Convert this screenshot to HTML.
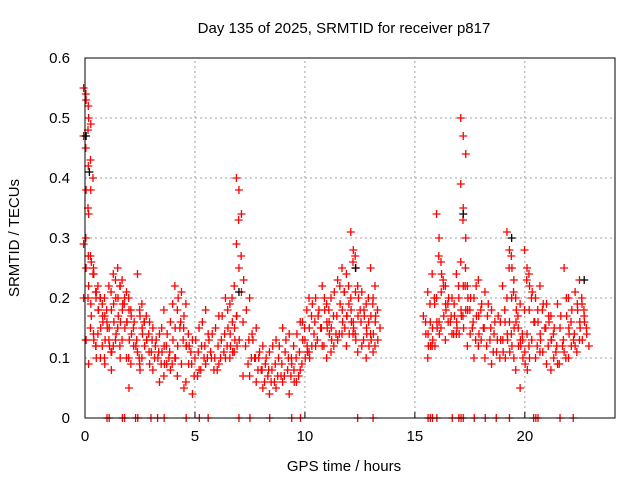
<!DOCTYPE html>
<html><head><meta charset="utf-8"><style>
body{margin:0;background:#fff}
svg text{font-family:"Liberation Sans",sans-serif;font-size:15px;fill:#000}
</style></head><body>
<svg id="chart" width="640" height="480" xmlns="http://www.w3.org/2000/svg">
<rect width="640" height="480" fill="#fff"/>
<g id="grid"></g><g id="marks"></g><g id="axes"></g>
</svg>
<script>
const xTicks=[0,5,10,15,20];
const yTicks=[0,0.1,0.2,0.3,0.4,0.5,0.6];
const yTickLabels=["0","0.1","0.2","0.3","0.4","0.5","0.6"];
const binTimes=[0.05,0.15,0.25,0.4,0.5,0.7,0.9,1.0,1.2,1.4,1.6,1.8,2.0,2.2,2.5,2.7,2.9,3.2,3.5,3.7,4.0,4.2,4.5,4.7,5.0,5.3,5.6,5.9,6.2,6.5,6.7,6.9,7.0,7.1,7.3,7.6,7.9,8.2,8.5,8.8,9.1,9.4,9.6,9.9,10.1,10.3,10.6,10.9,11.1,11.3,11.6,11.8,12.0,12.2,12.4,12.7,12.9,13.1,13.3,15.5,15.7,15.9,16.1,16.3,16.5,16.8,17.0,17.2,17.3,17.5,17.8,18.0,18.3,18.6,18.9,19.1,19.3,19.5,19.7,19.9,20.1,20.3,20.6,20.8,21.1,21.3,21.6,21.9,22.1,22.4,22.6,22.8,
0.6,0.8,1.1,1.3,1.5,1.7,1.9,2.1,2.35,2.6,2.8,3.05,3.35,3.6,3.85,4.1,4.35,4.6,4.85,5.15,5.45,5.75,6.05,6.35,6.6,6.8,7.45,7.75,8.05,8.35,8.65,8.95,9.25,9.5,9.75,10.0,10.2,10.45,10.75,11.0,11.2,11.45,11.7,11.9,12.1,12.3,12.55,12.8,13.0,13.2,15.6,15.8,16.0,16.2,16.4,16.65,16.9,17.1,17.4,17.65,17.9,18.15,18.45,18.75,19.0,19.2,19.4,19.6,19.8,20.0,20.2,20.45,20.7,20.95,21.2,21.45,21.75,22.0,22.25,22.5,22.7];
const binValues=[[.55,.53,.5,.47,.38,.34,.29,.25,.22,.2,.13,.09],[.54,.52,.49,.45,.42,.38,.3,.27,.19,.13],[.48,.43,.4,.35,.27,.24,.2,.15],[.26,.24,.21,.17,.13,.1],[.25,.2,.18,.14,.12],[.22,.2,.16,.14,.1],[.19,.17,.15,.12,.09],[.2,.16,.12,.1],[.22,.18,.16,.13,.08],[.24,.2,.17,.12],[.25,.22,.19,.15,.1],[.23,.2,.16,.13],[.21,.18,.14,.1,.05],[.18,.15,.12,.09],[.24,.17,.14,.11,.08],[.19,.16,.13,.1],[.17,.14,.11],[.15,.12,.1,.08],[.14,.11,.09,.06],[.18,.12,.1,.07],[.16,.13,.1,.08],[.22,.18,.15,.1,.07],[.21,.17,.12,.09,.05],[.19,.14,.11,.06],[.13,.1,.07,.04],[.15,.12,.1,.08],[.18,.14,.11,.09],[.14,.1,.08],[.17,.13,.11,.09],[.2,.15,.12,.1],[.19,.16,.13,.1],[.22,.17,.13,.11],[.4,.38,.34,.29,.25,.21,.17],[.33,.27,.23],[.16,.12,.09,.07],[.2,.14,.1,.07],[.15,.1,.08,.06],[.12,.09,.07,.05],[.11,.08,.06,.04],[.13,.1,.07,.05],[.15,.11,.08,.06],[.14,.09,.06,.04],[.12,.1,.07],[.16,.13,.1,.08],[.15,.12,.1],[.2,.17,.14,.11],[.2,.17,.15,.12],[.22,.18,.15,.12],[.19,.16,.13,.1],[.2,.17,.14,.11],[.23,.19,.16,.13],[.25,.21,.17,.14],[.24,.19,.16,.12],[.31,.28,.25,.2,.16,.13],[.27,.22,.18,.14,.11],[.21,.17,.14,.12],[.19,.16,.13,.1],[.25,.2,.17,.14,.11],[.22,.18,.15,.12],[.17,.14,.12],[.21,.16,.13,.1],[.24,.19,.15,.12],[.34,.3,.24,.2,.16],[.26,.22,.18,.15],[.22,.19,.16,.13],[.2,.17,.15,.14],[.24,.2,.17,.14],[.5,.47,.44,.39,.35,.3,.26,.22,.18],[.33,.25,.2,.17],[.22,.18,.15,.12],[.2,.17,.14,.1],[.23,.18,.15,.12],[.21,.17,.13,.1],[.18,.14,.11,.09],[.17,.13,.11],[.22,.16,.13],[.31,.28,.25,.2,.16,.12],[.27,.23,.18,.14,.1],[.2,.15,.12,.08],[.19,.13,.09,.05],[.28,.25,.22,.18,.14,.1],[.24,.2,.16,.12],[.2,.16,.13,.1],[.22,.18,.15,.11],[.19,.16,.13,.09],[.17,.14,.11,.08],[.19,.15,.12,.09],[.25,.17,.14,.11],[.2,.16,.13,.1],[.21,.18,.15,.12],[.23,.19,.16,.13],[.18,.15,.12],
[.21,.18,.15,.12],[.2,.17,.13],[.18,.15,.11],[.21,.19,.14,.11],[.23,.2,.16,.13],[.22,.18,.15,.12],[.19,.16,.13],[.2,.17,.12,.1],[.16,.13,.1],[.18,.15,.12,.09],[.16,.13,.11],[.16,.13,.1,.09],[.13,.11,.09],[.15,.12,.09],[.14,.11,.09],[.19,.15,.12],[.2,.16,.13],[.15,.12,.09],[.12,.09,.07],[.13,.11,.08],[.16,.12,.1],[.13,.1,.08],[.15,.12,.1],[.17,.14,.12],[.18,.14,.11],[.2,.15,.12],[.18,.13,.1],[.13,.1,.08],[.11,.08,.06],[.1,.08,.06],[.12,.09,.07],[.12,.09,.07],[.13,.1,.07],[.1,.08,.06],[.14,.11,.09],[.16,.13,.11],[.18,.15,.12],[.19,.16,.13],[.18,.15,.12],[.2,.16,.14],[.18,.15,.12],[.21,.17,.14],[.22,.18,.15],[.21,.17,.14],[.22,.18,.15],[.26,.21,.17,.14],[.2,.16,.13],[.18,.15,.12],[.2,.17,.14],[.19,.16,.13],[.16,.14,.12],[.19,.15,.12],[.2,.16,.14],[.27,.21,.17],[.23,.19,.16],[.2,.17,.14],[.19,.16,.14],[.22,.18,.15],[.22,.18,.14],[.2,.16,.13],[.22,.17,.13],[.19,.15,.12],[.19,.15,.11],[.16,.13,.1],[.16,.13,.1],[.18,.14,.11],[.25,.2,.15],[.21,.16,.12],[.17,.13,.1],[.14,.11,.08],[.23,.18,.13],[.21,.16,.12],[.18,.14,.11],[.19,.15,.12],[.17,.13,.1],[.15,.12,.09],[.17,.13,.1],[.2,.15,.12],[.18,.14,.11],[.19,.16,.13],[.2,.17,.14]];
const zeroTimes=[1.0,1.1,1.7,1.8,2.3,2.4,3.0,3.3,3.6,4.6,5.2,5.6,7.0,7.5,8.4,9.4,9.8,12.4,13.1,15.6,15.7,15.8,16.0,16.7,17.0,17.1,17.2,17.7,18.2,18.7,19.3,20.4,20.5,20.6,21.6,22.2];
const blackTimes=[0.05,0.2,7.0,12.3,17.2,19.4,22.7];
const blackValues=[.47,.41,.21,.25,.34,.3,.23];

const X0=85,X1=615,Y0=418,Y1=58,XMAX=24.1,YMAX=0.6;
const xs=t=>X0+(X1-X0)*t/XMAX;
const ys=v=>Y0-(Y0-Y1)*v/YMAX;
const NS="http://www.w3.org/2000/svg";
function mk(tag,attrs,parent){const e=document.createElementNS(NS,tag);for(const k in attrs)e.setAttribute(k,attrs[k]);parent.appendChild(e);return e;}
const grid=document.getElementById('grid'),marks=document.getElementById('marks'),axes=document.getElementById('axes');
xTicks.forEach(t=>{
  const l=mk('line',{x1:xs(t),x2:xs(t),y1:Y0,y2:Y1,stroke:'#a0a0a0','stroke-dasharray':'2,3'},grid);
  
  
  const tk=mk('line',{x1:xs(t),x2:xs(t),y1:Y0,y2:Y0-6,stroke:'#000'},axes);
  
  
  const tx=mk('text',{x:xs(t),y:Y0+23,'text-anchor':'middle'},axes);tx.textContent=String(t);
  
  
});
yTicks.forEach((v,i)=>{
  const l=mk('line',{x1:X0,x2:X1,y1:ys(v),y2:ys(v),stroke:'#a0a0a0','stroke-dasharray':'2,3'},grid);
  
  
  const tx=mk('text',{x:X0-15,y:ys(v)+5,'text-anchor':'end'},axes);tx.textContent=yTickLabels[i];
  
  
});
function plus(x,y,c,name){
  const p=mk('path',{d:`M${x-4},${y}h8M${x},${y-4}v8`,stroke:c,'stroke-width':1.3,fill:'none'},marks);
  
  
}
binTimes.forEach((t,i)=>binValues[i].forEach((v,j)=>plus(xs(t)+((j%3)-1)*2.5,ys(v),'#f00','srmtid-point')));
blackTimes.forEach((t,i)=>plus(xs(t),ys(blackValues[i]),'#000','black-point'));
zeroTimes.forEach(t=>plus(xs(t),ys(0),'#f00','zero-point'));
const fr=mk('rect',{x:X0,y:Y1,width:X1-X0,height:Y0-Y1,fill:'none',stroke:'#000'},axes);


const ti=mk('text',{x:344,y:33,'text-anchor':'middle'},axes);ti.textContent='Day 135 of 2025, SRMTID for receiver p817';


const xl=mk('text',{x:344,y:471,'text-anchor':'middle'},axes);xl.textContent='GPS time / hours';


const yl=mk('text',{x:0,y:0,'text-anchor':'middle',transform:'translate(19,238) rotate(-90)'},axes);yl.textContent='SRMTID / TECUs';


</script>
</body></html>
